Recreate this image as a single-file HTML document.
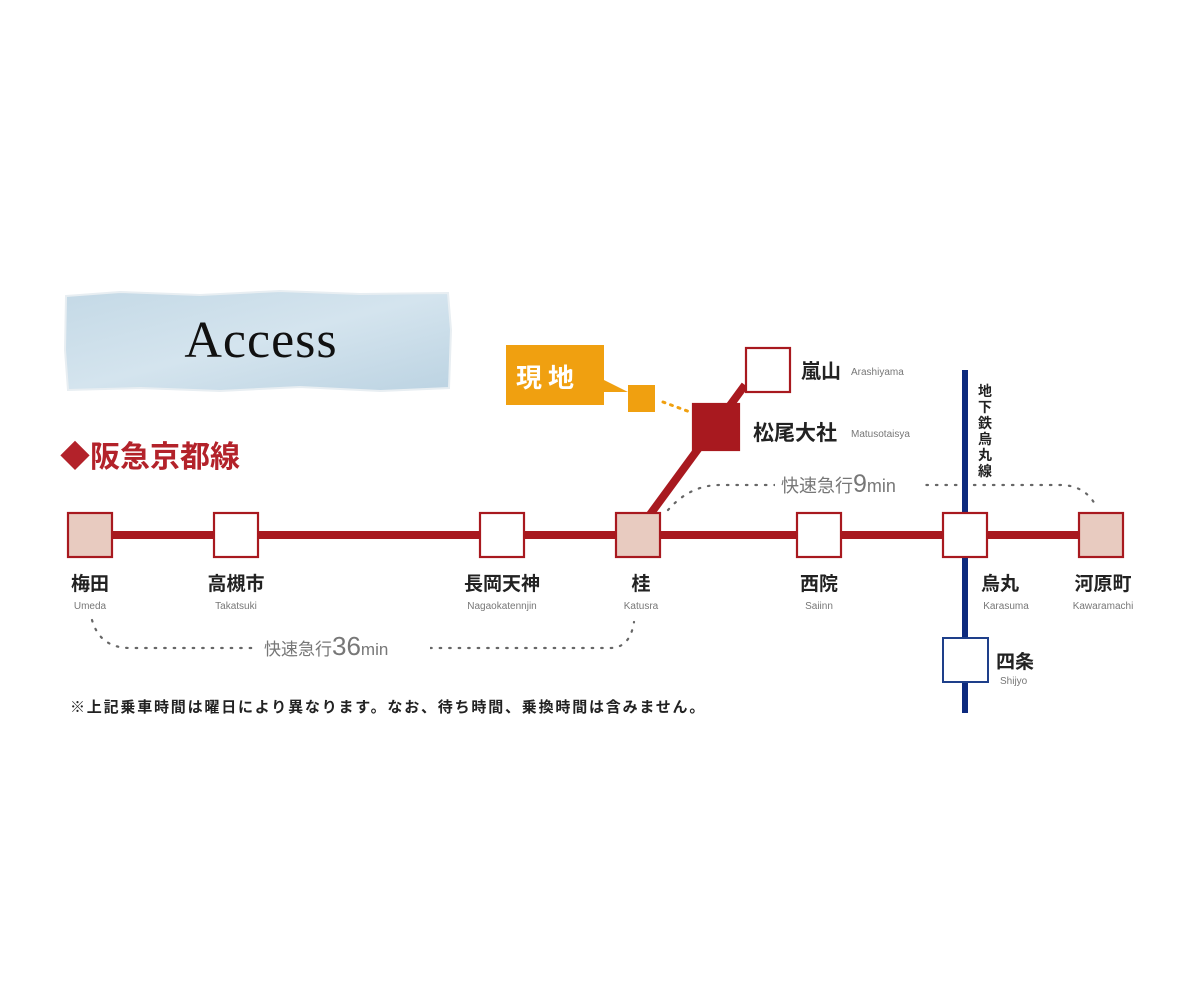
<!DOCTYPE html>
<html><head><meta charset="utf-8"><style>
html,body{margin:0;padding:0;background:#fff;}
svg{display:block;}
text{font-family:"Liberation Sans","Noto Sans CJK JP",sans-serif;}
.jp{font-weight:bold;font-size:19px;fill:#222;}
.en{font-size:10px;fill:#777;}
</style></head><body>
<svg width="1200" height="1000" viewBox="0 0 1200 1000" xmlns="http://www.w3.org/2000/svg">
<defs><linearGradient id="pg" x1="0" y1="0" x2="1" y2="1"><stop offset="0" stop-color="#c4d9e6"/><stop offset="0.5" stop-color="#d4e4ee"/><stop offset="1" stop-color="#bcd3e2"/></linearGradient></defs>
<path d="M66,296 L120,292 L200,295 L280,291 L360,294 L448,293 L451,330 L449,388 L380,391 L300,387 L220,391 L140,388 L68,390 L65,350 Z" fill="url(#pg)" stroke="#e8eef2" stroke-width="2"/>
<text x="261" y="357" text-anchor="middle" style="font-family:'Liberation Serif',serif;font-size:52px;fill:#111;letter-spacing:1px">Access</text>
<text x="60" y="467" style="font-weight:bold;font-size:30px;fill:#b3222a">◆阪急京都線</text>

<!-- dotted time lines -->
<path d="M92,620 Q100,648 130,648 L610,648 Q630,648 634,622" fill="none" stroke="#666" stroke-width="2.2" stroke-dasharray="1.5,8" stroke-linecap="round"/>
<rect x="255" y="632" width="175" height="30" fill="#fff"/>
<text x="264" y="655" style="font-size:17px;fill:#777">快速急行<tspan style="font-size:26px">36</tspan>min</text>
<path d="M668,510 Q690,485 720,485 L1060,485 Q1085,485 1096,506" fill="none" stroke="#666" stroke-width="2.2" stroke-dasharray="1.5,8" stroke-linecap="round"/>
<rect x="775" y="470" width="148" height="28" fill="#fff"/>
<text x="781" y="492" style="font-size:18px;fill:#777">快速急行<tspan style="font-size:25px">9</tspan>min</text>

<!-- blue line -->
<rect x="962" y="370" width="6" height="343" fill="#0d2a7e"/>
<rect x="943" y="638" width="45" height="44" fill="#fff" stroke="#1e3f8a" stroke-width="2"/>
<text x="996" y="668" class="jp">四条</text>
<text x="1000" y="684" class="en">Shijyo</text>
<g style="font-weight:bold;font-size:14px;fill:#222">
<text x="978" y="396">地</text><text x="978" y="412">下</text><text x="978" y="428">鉄</text><text x="978" y="444">烏</text><text x="978" y="460">丸</text><text x="978" y="476">線</text>
</g>

<!-- red line -->
<rect x="90" y="531" width="1011" height="8" fill="#a8191f"/>
<line x1="646" y1="520" x2="745" y2="385" stroke="#a8191f" stroke-width="8"/>

<!-- genchi -->
<path d="M506,345 L604,345 L604,380 L628,392 L604,392 L604,405 L506,405 Z" fill="#f0a010"/>
<text x="516" y="387" style="font-weight:bold;font-size:26px;fill:#fff;letter-spacing:6px">現地</text>
<rect x="628" y="385" width="27" height="27" fill="#f0a010"/>
<path d="M663,402 L690,412" stroke="#f0a010" stroke-width="3" stroke-dasharray="2,6" stroke-linecap="round"/>

<!-- stations -->
<g stroke="#a8191f" stroke-width="2.2">
<rect x="68" y="513" width="44" height="44" fill="#e8cbc0"/>
<rect x="214" y="513" width="44" height="44" fill="#fff"/>
<rect x="480" y="513" width="44" height="44" fill="#fff"/>
<rect x="616" y="513" width="44" height="44" fill="#e8cbc0"/>
<rect x="797" y="513" width="44" height="44" fill="#fff"/>
<rect x="943" y="513" width="44" height="44" fill="#fff"/>
<rect x="1079" y="513" width="44" height="44" fill="#e8cbc0"/>
<rect x="746" y="348" width="44" height="44" fill="#fff"/>
<rect x="693" y="404" width="46" height="46" fill="#a8191f"/>
</g>

<text x="801" y="378" class="jp" style="font-size:20px">嵐山</text><text x="851" y="375" class="en">Arashiyama</text>
<text x="753" y="440" class="jp" style="font-size:21px">松尾大社</text><text x="851" y="437" class="en">Matusotaisya</text>

<g text-anchor="middle">
<text x="90" y="590" class="jp">梅田</text><text x="90" y="609" class="en">Umeda</text>
<text x="236" y="590" class="jp">高槻市</text><text x="236" y="609" class="en">Takatsuki</text>
<text x="502" y="590" class="jp">長岡天神</text><text x="502" y="609" class="en">Nagaokatennjin</text>
<text x="641" y="590" class="jp">桂</text><text x="641" y="609" class="en">Katusra</text>
<text x="819" y="590" class="jp">西院</text><text x="819" y="609" class="en">Saiinn</text>
<text x="1000" y="590" class="jp">烏丸</text><text x="1006" y="609" class="en">Karasuma</text>
<text x="1103" y="590" class="jp">河原町</text><text x="1103" y="609" class="en">Kawaramachi</text>
</g>

<text x="70" y="712" style="font-weight:bold;font-size:15px;fill:#222;letter-spacing:1.8px">※上記乗車時間は曜日により異なります。なお、待ち時間、乗換時間は含みません。</text>
</svg>
</body></html>
